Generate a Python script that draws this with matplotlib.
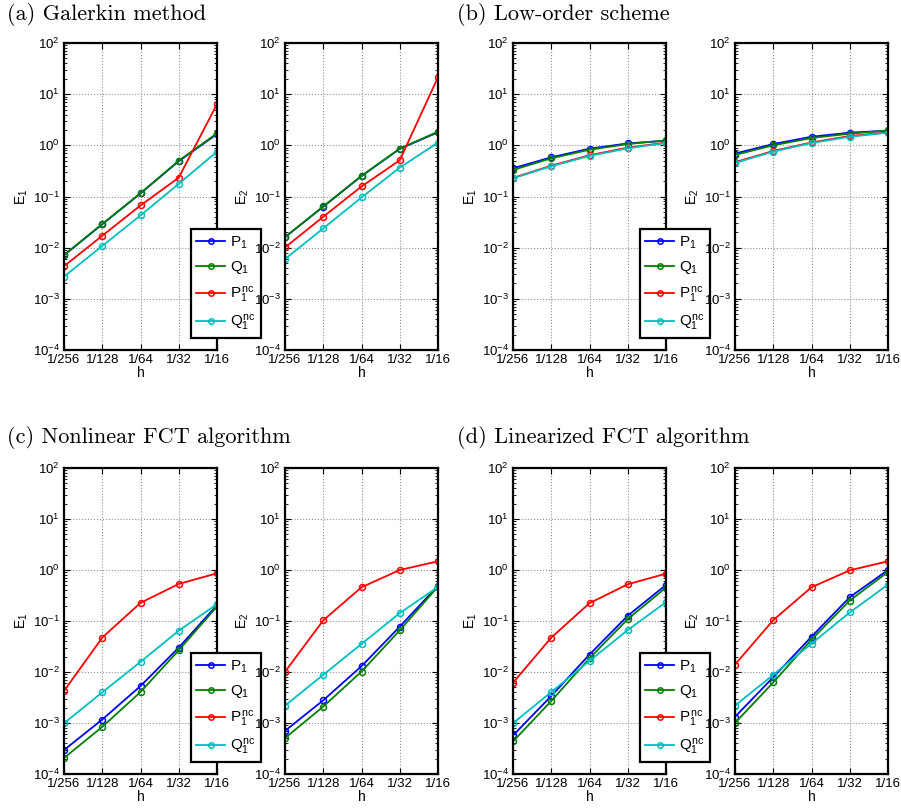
import numpy as np
import matplotlib
matplotlib.use("Agg")
import matplotlib.pyplot as plt
from matplotlib.ticker import LogLocator, NullFormatter, FixedLocator, FixedFormatter

plt.rcParams['font.family'] = ['Liberation Sans', 'DejaVu Sans']
plt.rcParams['mathtext.fontset'] = 'custom'
plt.rcParams['mathtext.rm'] = 'Liberation Sans'
plt.rcParams['mathtext.it'] = 'Liberation Sans'
plt.rcParams['mathtext.bf'] = 'Liberation Sans:bold'

h = [1/256, 1/128, 1/64, 1/32, 1/16]
h_labels = ['1/256', '1/128', '1/64', '1/32', '1/16']
series_names = ['$P_1$', '$Q_1$', '$P_1^{nc}$', '$Q_1^{nc}$']
colors = ['#0000ff', '#008000', '#ff0000', '#00bfbf']

group_titles = ['(a) Galerkin method', '(b) Low-order scheme',
                '(c) Nonlinear FCT algorithm', '(d) Linearized FCT algorithm']

# (a) Galerkin method
a_E1_P1 = [0.0071, 0.0287, 0.115, 0.49, 1.66]
a_E1_Q1 = [0.0072, 0.0289, 0.116, 0.50, 1.72]
a_E1_P1nc = [0.00433, 0.0171, 0.0668, 0.234, 6.38]
a_E1_Q1nc = [0.00272, 0.0108, 0.0427, 0.177, 0.753]
a_E2_P1 = [0.0160, 0.0633, 0.251, 0.855, 1.80]
a_E2_Q1 = [0.0161, 0.0638, 0.253, 0.861, 1.85]
a_E2_P1nc = [0.0101, 0.0402, 0.157, 0.51, 21.4]
a_E2_Q1nc = [0.0060, 0.0238, 0.0957, 0.367, 1.13]

# (b) Low-order scheme
b_E1_P1 = [0.356, 0.583, 0.86, 1.09, 1.23]
b_E1_Q1 = [0.33, 0.558, 0.82, 1.06, 1.25]
b_E1_P1nc = [0.231, 0.40, 0.64, 0.90, 1.13]
b_E1_Q1nc = [0.227, 0.39, 0.62, 0.875, 1.11]
b_E2_P1 = [0.69, 1.06, 1.47, 1.77, 1.93]
b_E2_Q1 = [0.65, 1.00, 1.39, 1.69, 1.96]
b_E2_P1nc = [0.467, 0.776, 1.14, 1.52, 1.79]
b_E2_Q1nc = [0.453, 0.753, 1.11, 1.47, 1.77]

# (c) Nonlinear FCT algorithm
c_E1_P1 = [2.95e-4, 1.17e-3, 5.3e-3, 0.0301, 0.205]
c_E1_Q1 = [2.06e-4, 8.4e-4, 4.05e-3, 0.0267, 0.193]
c_E1_P1nc = [4.24e-3, 0.0472, 0.227, 0.533, 0.861]
c_E1_Q1nc = [9.9e-4, 3.99e-3, 0.0158, 0.0646, 0.214]
c_E2_P1 = [7.0e-4, 2.79e-3, 0.013, 0.0773, 0.495]
c_E2_Q1 = [5.06e-4, 2.1e-3, 0.0102, 0.0656, 0.473]
c_E2_P1nc = [0.0101, 0.103, 0.459, 1.0, 1.48]
c_E2_Q1nc = [2.19e-3, 8.8e-3, 0.0355, 0.143, 0.466]

# (d) Linearized FCT algorithm
d_E1_P1 = [5.7e-4, 3.38e-3, 0.022, 0.127, 0.51]
d_E1_Q1 = [4.35e-4, 2.7e-3, 0.0186, 0.109, 0.452]
d_E1_P1nc = [6.15e-3, 0.0472, 0.224, 0.525, 0.848]
d_E1_Q1nc = [9.9e-4, 4.05e-3, 0.0165, 0.0665, 0.234]
d_E2_P1 = [1.32e-3, 7.9e-3, 0.0493, 0.293, 1.0]
d_E2_Q1 = [1.0e-3, 6.25e-3, 0.0431, 0.252, 0.914]
d_E2_P1nc = [0.014, 0.104, 0.459, 0.986, 1.48]
d_E2_Q1nc = [2.19e-3, 8.8e-3, 0.036, 0.147, 0.518]

panels = [
    [[a_E1_P1, a_E1_Q1, a_E1_P1nc, a_E1_Q1nc], [a_E2_P1, a_E2_Q1, a_E2_P1nc, a_E2_Q1nc]],
    [[b_E1_P1, b_E1_Q1, b_E1_P1nc, b_E1_Q1nc], [b_E2_P1, b_E2_Q1, b_E2_P1nc, b_E2_Q1nc]],
    [[c_E1_P1, c_E1_Q1, c_E1_P1nc, c_E1_Q1nc], [c_E2_P1, c_E2_Q1, c_E2_P1nc, c_E2_Q1nc]],
    [[d_E1_P1, d_E1_Q1, d_E1_P1nc, d_E1_Q1nc], [d_E2_P1, d_E2_Q1, d_E2_P1nc, d_E2_Q1nc]],
]

W, H = 901, 811
fig = plt.figure(figsize=(W / 100, H / 100), dpi=100)

col_lefts = [[64, 285], [513, 735]]
ax_w = 153
rows = [(43, 350), (468, 774)]
title_y = [14, 437]
title_x = [7, 457]
legend_box = [(191, 229), (640, 229), (191, 653), (640, 653)]

for g in range(4):
    r, c = divmod(g, 2)
    top, bot = rows[r]
    fig.text(title_x[c] / W, 1 - title_y[r] / H, group_titles[g],
             family='cmr10', fontsize=16, va='center', ha='left')
    for k in range(2):
        left = col_lefts[c][k]
        ax = fig.add_axes([left / W, 1 - bot / H, ax_w / W, (bot - top) / H])
        for s in range(4):
            ax.plot(h, panels[g][k][s], '-o', color=colors[s], lw=1.3,
                    ms=4.3, mfc='none', mew=1.1, label=series_names[s])
        ax.set_xscale('log')
        ax.set_yscale('log')
        ax.set_xlim(1/256, 1/16)
        ax.set_ylim(1e-4, 1e2)
        ax.xaxis.set_major_locator(FixedLocator(h))
        ax.xaxis.set_major_formatter(FixedFormatter(h_labels))
        ax.xaxis.set_minor_locator(FixedLocator([]))
        ax.yaxis.set_major_locator(LogLocator(base=10, numticks=10))
        ax.yaxis.set_minor_locator(LogLocator(base=10, subs=np.arange(2, 10), numticks=10))
        ax.yaxis.set_minor_formatter(NullFormatter())
        ax.tick_params(which='both', direction='in', top=True, right=True,
                       labelsize=9.5, pad=3)
        ax.tick_params(which='major', length=4, width=0.8)
        ax.tick_params(which='minor', length=2, width=0.6)
        ax.grid(True, which='major', linestyle=':', color='#909090', lw=0.8)
        for sp in ax.spines.values():
            sp.set_linewidth(1.6)
        ax.set_xlabel('h', fontsize=10, labelpad=0)
        ax.set_ylabel('$E_%d$' % (k + 1), fontsize=10, labelpad=2)
        if k == 0:
            lx, ly = legend_box[g]
            leg = ax.legend(loc='upper left',
                            bbox_to_anchor=(lx / W, 1 - ly / H),
                            bbox_transform=fig.transFigure,
                            fontsize=11, frameon=True, fancybox=False,
                            handlelength=1.9, handletextpad=0.3,
                            labelspacing=0.55, borderpad=0.35,
                            borderaxespad=0.0, markerscale=0.9)
            leg.get_frame().set_edgecolor('black')
            leg.get_frame().set_linewidth(1.6)
            leg.get_frame().set_alpha(1)
            leg.set_zorder(10)

fig.savefig('out.png', dpi=100)
